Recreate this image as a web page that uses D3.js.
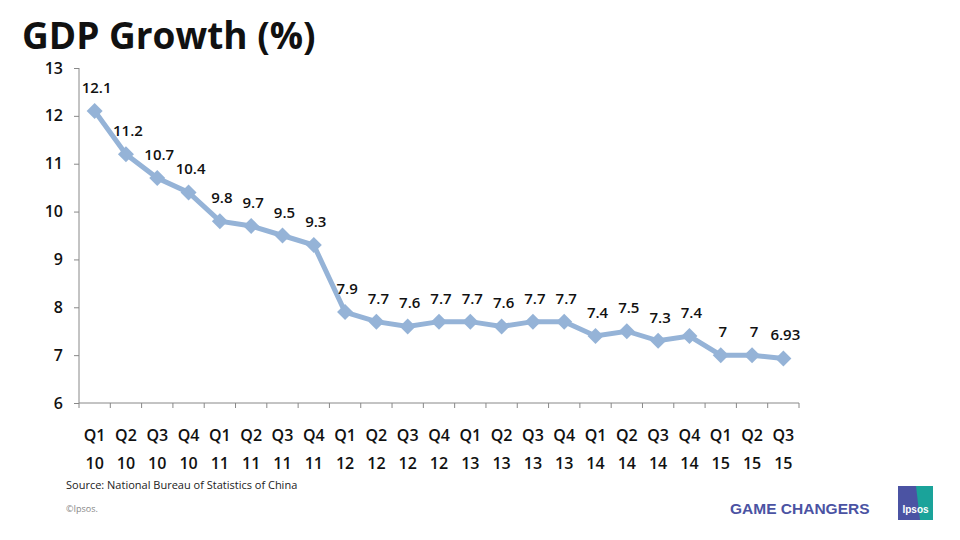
<!DOCTYPE html>
<html><head><meta charset="utf-8">
<script src="https://cdn.jsdelivr.net/npm/d3@7"></script>
<style>body{margin:0;background:#fff}svg{display:block}</style>
</head><body>
<svg id="c" width="960" height="540"></svg>
<script>
const quarters = ["Q1","Q2","Q3","Q4","Q1","Q2","Q3","Q4","Q1","Q2","Q3","Q4","Q1","Q2","Q3","Q4","Q1","Q2","Q3","Q4","Q1","Q2","Q3"];
const years = ["10","10","10","10","11","11","11","11","12","12","12","12","13","13","13","13","14","14","14","14","15","15","15"];
const gdp = [12.1,11.2,10.7,10.4,9.8,9.7,9.5,9.3,7.9,7.7,7.6,7.7,7.7,7.6,7.7,7.7,7.4,7.5,7.3,7.4,7,7,6.93];
const yTicks = [6,7,8,9,10,11,12,13];

const svg = d3.select("#c");
const x = d3.scaleBand().domain(d3.range(gdp.length)).range([79, 799]);
const y = d3.scaleLinear().domain([6, 13]).range([403, 68]);
const cx = i => x(i) + x.bandwidth()/2;
const F = "Open Sans, sans-serif";

svg.append("text").attr("x", 22).attr("y", 49).attr("font-family", F)
  .attr("font-weight", "bold").attr("font-size", 37).attr("fill", "#111").text("GDP Growth (%)");

const ya = svg.append("g").attr("transform", "translate(79,0)").call(d3.axisLeft(y).tickValues(yTicks).tickSize(5).tickFormat(d3.format("d")));
ya.selectAll("text").attr("font-family", F).attr("font-weight", 600).attr("font-size", 16).attr("fill", "#111").attr("dx", "-8");
ya.selectAll("line,path").attr("stroke", "#888");
ya.select("path").attr("d", "M0,68V403");

const xa = svg.append("g").attr("transform", "translate(0,403)");
xa.append("line").attr("x1", 79).attr("x2", 799).attr("stroke", "#888");
xa.selectAll("line.t").data(d3.range(gdp.length + 1)).join("line")
  .attr("x1", i => 79 + i * x.step()).attr("x2", i => 79 + i * x.step()).attr("y2", 5).attr("stroke", "#888");
xa.selectAll("text.q").data(quarters).join("text").attr("x", (d,i) => cx(i)).attr("y", 38)
  .attr("text-anchor", "middle").attr("font-family", F).attr("font-weight", 600).attr("font-size", 16).attr("fill", "#111").text(d => d);
xa.selectAll("text.y").data(years).join("text").attr("x", (d,i) => cx(i)).attr("y", 66)
  .attr("text-anchor", "middle").attr("font-family", F).attr("font-weight", 600).attr("font-size", 16).attr("fill", "#111").text(d => d);

const line = d3.line().x((d,i) => cx(i)).y(d => y(d));
svg.append("path").datum(gdp).attr("d", line).attr("fill", "none").attr("stroke", "#95b3d7").attr("stroke-width", 5);
svg.selectAll("path.m").data(gdp).join("path")
  .attr("transform", (d,i) => `translate(${cx(i)},${y(d)})`)
  .attr("d", "M0,-8L8,0L0,8L-8,0Z").attr("fill", "#95b3d7");
svg.selectAll("text.l").data(gdp).join("text")
  .attr("x", (d,i) => cx(i) + 2).attr("y", d => y(d) - 18).attr("text-anchor", "middle")
  .attr("font-family", F).attr("font-weight", 600).attr("font-size", 15).attr("fill", "#111").text(d => d);

svg.append("text").attr("x", 66).attr("y", 489).attr("font-family", F).attr("font-size", 11).attr("fill", "#222").text("Source: National Bureau of Statistics of China");
svg.append("text").attr("x", 66).attr("y", 512).attr("font-family", F).attr("font-size", 9).attr("fill", "#888").text("©Ipsos.");
svg.append("text").attr("x", 730).attr("y", 514).attr("font-family", "Liberation Sans, Arial, sans-serif").attr("font-weight", "bold").attr("font-size", 15.5).attr("fill", "#4b53a3").text("GAME CHANGERS");
svg.append("rect").attr("x", 898).attr("y", 486).attr("width", 35).attr("height", 34).attr("fill", "#4b53a3");
svg.append("path").attr("d", "M916,486H933V520H920Z").attr("fill", "#1aa39a");
svg.append("text").attr("x", 915.5).attr("y", 513).attr("text-anchor", "middle").attr("font-family", "Liberation Sans, sans-serif").attr("font-weight", "bold").attr("font-size", 10).attr("fill", "#fff").text("Ipsos");
</script></body></html>
